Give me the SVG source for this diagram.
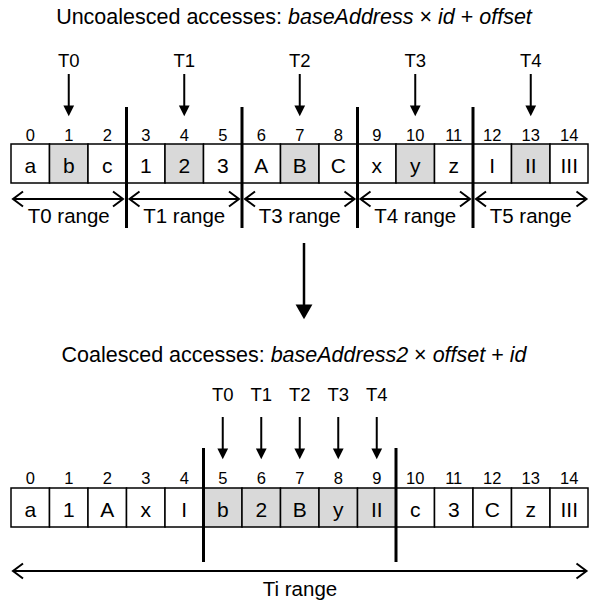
<svg xmlns="http://www.w3.org/2000/svg" width="589" height="606" viewBox="0 0 589 606">
<style>
text{font-family:"Liberation Sans",Arial,sans-serif;fill:#000}
.title{font-size:21.5px;text-anchor:middle}
.it{font-style:italic}
.tl{font-size:18.5px;text-anchor:middle}
.idx{font-size:16.5px;text-anchor:middle}
.val{font-size:21px;text-anchor:middle}
.rl{font-size:20.5px;text-anchor:middle}
.cell{fill:#fff;stroke:#000;stroke-width:1.5}
.hl{fill:#d9d9d9}
.div{stroke:#000;stroke-width:3}
.arr{stroke:#000;stroke-width:2;fill:none;marker-end:url(#fa)}
.rng{stroke:#000;stroke-width:2;fill:none;marker-start:url(#ch);marker-end:url(#ch)}
</style>
<defs>
<marker id="fa" markerUnits="userSpaceOnUse" markerWidth="12" markerHeight="12" viewBox="0 -5 10 10" refX="3" refY="0" orient="auto"><path d="M0,-4.5 L9,0 L0,4.5 Z" fill="#000"/></marker>
<marker id="fb" markerUnits="userSpaceOnUse" markerWidth="16" markerHeight="18" viewBox="0 -8 14 16" refX="4" refY="0" orient="auto"><path d="M0,-7.5 L13,0 L0,7.5 Z" fill="#000"/></marker>
<marker id="ch" markerUnits="userSpaceOnUse" markerWidth="14" markerHeight="18" viewBox="-12 -9 14 18" refX="0" refY="0" orient="auto-start-reverse" overflow="visible"><path d="M-10,-7.5 L0,0 L-10,7.5" fill="none" stroke="#000" stroke-width="2"/></marker>
</defs>

<g id="title-top"><text class="title" x="294" y="24">Uncoalesced accesses: <tspan class="it">baseAddress</tspan> × <tspan class="it">id</tspan> + <tspan class="it">offset</tspan></text></g>

<g id="threads-top">
<text class="tl" x="68.75" y="67">T0</text>
<text class="tl" x="184.25" y="67">T1</text>
<text class="tl" x="299.75" y="67">T2</text>
<text class="tl" x="415.25" y="67">T3</text>
<text class="tl" x="530.75" y="67">T4</text>
</g>

<g id="array-top">
<rect class="cell" x="11" y="144" width="38.5" height="39"/>
<rect class="cell hl" x="49.5" y="144" width="38.5" height="39"/>
<rect class="cell" x="88" y="144" width="38.5" height="39"/>
<rect class="cell" x="126.5" y="144" width="38.5" height="39"/>
<rect class="cell hl" x="165" y="144" width="38.5" height="39"/>
<rect class="cell" x="203.5" y="144" width="38.5" height="39"/>
<rect class="cell" x="242" y="144" width="38.5" height="39"/>
<rect class="cell hl" x="280.5" y="144" width="38.5" height="39"/>
<rect class="cell" x="319" y="144" width="38.5" height="39"/>
<rect class="cell" x="357.5" y="144" width="38.5" height="39"/>
<rect class="cell hl" x="396" y="144" width="38.5" height="39"/>
<rect class="cell" x="434.5" y="144" width="38.5" height="39"/>
<rect class="cell" x="473" y="144" width="38.5" height="39"/>
<rect class="cell hl" x="511.5" y="144" width="38.5" height="39"/>
<rect class="cell" x="550" y="144" width="38" height="39"/>
<text class="idx" x="30.25" y="141">0</text><text class="idx" x="68.75" y="141">1</text><text class="idx" x="107.25" y="141">2</text>
<text class="idx" x="145.75" y="141">3</text><text class="idx" x="184.25" y="141">4</text><text class="idx" x="222.75" y="141">5</text>
<text class="idx" x="261.25" y="141">6</text><text class="idx" x="299.75" y="141">7</text><text class="idx" x="338.25" y="141">8</text>
<text class="idx" x="376.75" y="141">9</text><text class="idx" x="415.25" y="141">10</text><text class="idx" x="453.75" y="141">11</text>
<text class="idx" x="492.25" y="141">12</text><text class="idx" x="530.75" y="141">13</text><text class="idx" x="569.25" y="141">14</text>
<text class="val" x="30.25" y="173">a</text><text class="val" x="68.75" y="173">b</text><text class="val" x="107.25" y="173">c</text>
<text class="val" x="145.75" y="173">1</text><text class="val" x="184.25" y="173">2</text><text class="val" x="222.75" y="173">3</text>
<text class="val" x="261.25" y="173">A</text><text class="val" x="299.75" y="173">B</text><text class="val" x="338.25" y="173">C</text>
<text class="val" x="376.75" y="173">x</text><text class="val" x="415.25" y="173">y</text><text class="val" x="453.75" y="173">z</text>
<text class="val" x="492.25" y="173">I</text><text class="val" x="530.75" y="173">II</text><text class="val" x="569.25" y="173">III</text>
</g>

<g id="ranges-top">
<text class="rl" x="68.75" y="223">T0 range</text>
<text class="rl" x="184.25" y="223">T1 range</text>
<text class="rl" x="299.75" y="223">T3 range</text>
<text class="rl" x="415.25" y="223">T4 range</text>
<text class="rl" x="530.75" y="223">T5 range</text>
</g>

<g id="title-bottom"><text class="title" x="294" y="362">Coalesced accesses: <tspan class="it">baseAddress2</tspan> × <tspan class="it">offset</tspan> + <tspan class="it">id</tspan></text></g>

<g id="threads-bottom">
<text class="tl" x="222.75" y="401">T0</text>
<text class="tl" x="261.25" y="401">T1</text>
<text class="tl" x="299.75" y="401">T2</text>
<text class="tl" x="338.25" y="401">T3</text>
<text class="tl" x="376.75" y="401">T4</text>
</g>

<g id="array-bottom">
<rect class="cell" x="11" y="488" width="38.5" height="39"/>
<rect class="cell" x="49.5" y="488" width="38.5" height="39"/>
<rect class="cell" x="88" y="488" width="38.5" height="39"/>
<rect class="cell" x="126.5" y="488" width="38.5" height="39"/>
<rect class="cell" x="165" y="488" width="38.5" height="39"/>
<rect class="cell hl" x="203.5" y="488" width="38.5" height="39"/>
<rect class="cell hl" x="242" y="488" width="38.5" height="39"/>
<rect class="cell hl" x="280.5" y="488" width="38.5" height="39"/>
<rect class="cell hl" x="319" y="488" width="38.5" height="39"/>
<rect class="cell hl" x="357.5" y="488" width="38.5" height="39"/>
<rect class="cell" x="396" y="488" width="38.5" height="39"/>
<rect class="cell" x="434.5" y="488" width="38.5" height="39"/>
<rect class="cell" x="473" y="488" width="38.5" height="39"/>
<rect class="cell" x="511.5" y="488" width="38.5" height="39"/>
<rect class="cell" x="550" y="488" width="38" height="39"/>
<text class="idx" x="30.25" y="484">0</text><text class="idx" x="68.75" y="484">1</text><text class="idx" x="107.25" y="484">2</text>
<text class="idx" x="145.75" y="484">3</text><text class="idx" x="184.25" y="484">4</text><text class="idx" x="222.75" y="484">5</text>
<text class="idx" x="261.25" y="484">6</text><text class="idx" x="299.75" y="484">7</text><text class="idx" x="338.25" y="484">8</text>
<text class="idx" x="376.75" y="484">9</text><text class="idx" x="415.25" y="484">10</text><text class="idx" x="453.75" y="484">11</text>
<text class="idx" x="492.25" y="484">12</text><text class="idx" x="530.75" y="484">13</text><text class="idx" x="569.25" y="484">14</text>
<text class="val" x="30.25" y="517">a</text><text class="val" x="68.75" y="517">1</text><text class="val" x="107.25" y="517">A</text>
<text class="val" x="145.75" y="517">x</text><text class="val" x="184.25" y="517">I</text><text class="val" x="222.75" y="517">b</text>
<text class="val" x="261.25" y="517">2</text><text class="val" x="299.75" y="517">B</text><text class="val" x="338.25" y="517">y</text>
<text class="val" x="376.75" y="517">II</text><text class="val" x="415.25" y="517">c</text><text class="val" x="453.75" y="517">3</text>
<text class="val" x="492.25" y="517">C</text><text class="val" x="530.75" y="517">z</text><text class="val" x="569.25" y="517">III</text>
</g>

<g id="range-bottom"><text class="rl" x="300" y="596">Ti range</text></g>

<g id="connectors">
<line class="div" x1="126.5" y1="107" x2="126.5" y2="228"/>
<line class="div" x1="242" y1="107" x2="242" y2="228"/>
<line class="div" x1="357.5" y1="107" x2="357.5" y2="228"/>
<line class="div" x1="473" y1="107" x2="473" y2="228"/>
<line class="div" x1="203.5" y1="448" x2="203.5" y2="562"/>
<line class="div" x1="396" y1="448" x2="396" y2="562"/>
<line class="arr" x1="68.75" y1="74" x2="68.75" y2="109"/>
<line class="arr" x1="184.25" y1="74" x2="184.25" y2="109"/>
<line class="arr" x1="299.75" y1="74" x2="299.75" y2="109"/>
<line class="arr" x1="415.25" y1="74" x2="415.25" y2="109"/>
<line class="arr" x1="530.75" y1="74" x2="530.75" y2="109"/>
<line class="arr" x1="222.75" y1="417" x2="222.75" y2="452"/>
<line class="arr" x1="261.25" y1="417" x2="261.25" y2="452"/>
<line class="arr" x1="299.75" y1="417" x2="299.75" y2="452"/>
<line class="arr" x1="338.25" y1="417" x2="338.25" y2="452"/>
<line class="arr" x1="376.75" y1="417" x2="376.75" y2="452"/>
<line x1="304" y1="243" x2="304" y2="309" stroke="#000" stroke-width="2.5" marker-end="url(#fb)"/>
<line class="rng" x1="13" y1="199" x2="123" y2="199"/>
<line class="rng" x1="129.5" y1="199" x2="239" y2="199"/>
<line class="rng" x1="245" y1="199" x2="354.5" y2="199"/>
<line class="rng" x1="360.5" y1="199" x2="470" y2="199"/>
<line class="rng" x1="476" y1="199" x2="586.5" y2="199"/>
<line class="rng" x1="13" y1="571" x2="586.5" y2="571"/>
</g>
</svg>
